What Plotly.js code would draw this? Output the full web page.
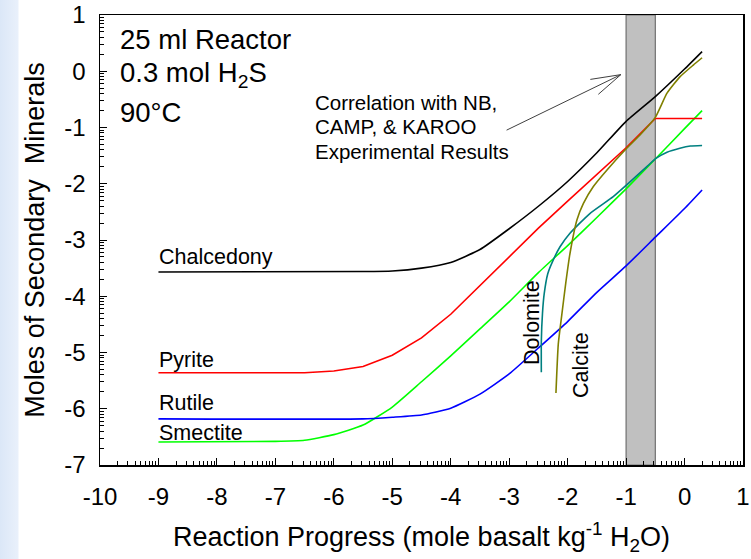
<!DOCTYPE html>
<html>
<head>
<meta charset="utf-8">
<script src="https://cdn.plot.ly/plotly-3.0.1.min.js"></script>
<style>
  html, body { margin: 0; padding: 0; width: 751px; height: 559px; overflow: hidden;
    background: linear-gradient(to right, #dbe7f7 0px, #e9f0fb 18px, #ffffff 19px); }
  #chart { width: 751px; height: 559px; }
</style>
</head>
<body>
<div id="chart"></div>
<script>
// ---- data ----
const chalcedonyX = [-9, -5.5, -5, -4.5, -4, -3.5, -3, -2.5, -2, -1.5, -1, -0.5, 0, 0.3];
const chalcedonyY = [-3.57, -3.56, -3.55, -3.50, -3.40, -3.17, -2.80, -2.40, -1.96, -1.45, -0.89, -0.45, 0.04, 0.35];

const pyriteX = [-9, -6.5, -6, -5.5, -5, -4.5, -4, -3.5, -3, -2.5, -2, -1.5, -1, -0.5, 0.3];
const pyriteY = [-5.36, -5.36, -5.33, -5.25, -5.05, -4.74, -4.32, -3.81, -3.31, -2.79, -2.31, -1.84, -1.36, -0.84, -0.84];

const rutileX = [-9, -5.5, -5, -4.5, -4, -3.5, -3, -2.5, -2, -1.5, -1, -0.5, 0, 0.3];
const rutileY = [-6.18, -6.18, -6.15, -6.11, -5.99, -5.74, -5.38, -4.92, -4.45, -3.93, -3.46, -2.95, -2.44, -2.11];

const smectiteX = [-9, -7, -6.5, -6, -5.5, -5, -4.5, -4, -3.5, -3, -2.5, -2, -1.5, -1, -0.5, 0, 0.3];
const smectiteY = [-6.59, -6.58, -6.56, -6.46, -6.29, -5.97, -5.52, -5.06, -4.58, -4.10, -3.58, -3.10, -2.60, -2.09, -1.56, -1.02, -0.70];

const dolomiteX = [-2.45, -2.45, -2.43, -2.40, -2.34, -2.27, -2.13, -1.96, -1.62, -1.22, -0.99, -0.65, -0.49, -0.30, -0.08, 0.10, 0.30];
const dolomiteY = [-5.35, -4.80, -4.30, -3.95, -3.60, -3.41, -3.12, -2.88, -2.53, -2.23, -2.02, -1.70, -1.55, -1.44, -1.37, -1.33, -1.32];

const calciteX = [-2.20, -2.16, -2.10, -2.03, -1.96, -1.84, -1.73, -1.56, -1.33, -0.99, -0.75, -0.50, -0.30, -0.08, 0.15, 0.30];
const calciteY = [-5.72, -4.85, -4.33, -3.75, -3.24, -2.64, -2.35, -2.05, -1.76, -1.37, -1.12, -0.82, -0.39, -0.10, 0.11, 0.24];

const bandRange = [-1, -0.5];
const xTicks = [-10, -9, -8, -7, -6, -5, -4, -3, -2, -1, 0, 1];
const xTickText = ['-10', '-9', '-8', '-7', '-6', '-5', '-4', '-3', '-2', '-1', '0', '1'];
const yTicks = [-7, -6, -5, -4, -3, -2, -1, 0, 1];
const yTickText = ['-7', '-6', '-5', '-4', '-3', '-2', '-1', '0', '1'];

// minor (log-spaced) tick positions
function minorTicks(lo, hi) {
  const out = [];
  for (let n = lo; n < hi; n++) {
    for (let k = 2; k <= 9; k++) out.push(n + Math.log10(k));
  }
  return out;
}

const FONT = 'Liberation Sans, Arial, sans-serif';
const lw = 1.6;
const sm = {shape: 'spline', smoothing: 0.5};

const traces = [
  {x: smectiteX, y: smectiteY, mode: 'lines', line: Object.assign({color: '#00ff00', width: lw}, sm)},
  {x: rutileX, y: rutileY, mode: 'lines', line: Object.assign({color: '#0000ff', width: lw}, sm)},
  {x: pyriteX, y: pyriteY, mode: 'lines', line: {color: '#ff0000', width: lw}},
  {x: dolomiteX, y: dolomiteY, mode: 'lines', line: Object.assign({color: '#008080', width: lw}, sm)},
  {x: calciteX, y: calciteY, mode: 'lines', line: Object.assign({color: '#808000', width: lw}, sm)},
  {x: chalcedonyX, y: chalcedonyY, mode: 'lines', line: Object.assign({color: '#000000', width: lw}, sm)}
];

function lab(text, x, y, opts) {
  return Object.assign({text: text, x: x, y: y, xref: 'x', yref: 'y', showarrow: false,
    xanchor: 'left', yanchor: 'middle', font: {family: FONT, size: 21.5, color: '#000'}}, opts || {});
}

// arrow tip and tail (data coords), barbs as pixel offsets from the tip
const arrowTip = {x: -1.09, y: -0.06};
const arrowTail = {x: -3.07, y: -1.06};
function arrowLine(opts) {
  return Object.assign({x: arrowTip.x, y: arrowTip.y, xref: 'x', yref: 'y', text: '',
    showarrow: true, arrowhead: 0, arrowwidth: 1, arrowcolor: '#404040'}, opts);
}

const annotations = [
  lab('25 ml Reactor', -9.70, 0.56, {font: {family: FONT, size: 27.5, color: '#000'}}),
  lab('0.3 mol H<sub>2</sub>S', -9.70, -0.05, {font: {family: FONT, size: 27.5, color: '#000'}}),
  lab('90°C', -9.70, -0.74, {font: {family: FONT, size: 27.5, color: '#000'}}),
  lab('Correlation with NB,', -6.36, -0.56, {font: {family: FONT, size: 20.5, color: '#000'}}),
  lab('CAMP, &amp; KAROO', -6.36, -0.99, {font: {family: FONT, size: 20.5, color: '#000'}}),
  lab('Experimental Results', -6.36, -1.42, {font: {family: FONT, size: 20.5, color: '#000'}}),
  lab('Chalcedony', -9.02, -3.30),
  lab('Pyrite', -9.02, -5.13),
  lab('Rutile', -9.02, -5.90),
  lab('Smectite', -9.02, -6.43),
  lab('Dolomite', -2.61, -4.46, {textangle: -90, xanchor: 'center'}),
  lab('Calcite', -1.77, -5.22, {textangle: -90, xanchor: 'center'}),
  arrowLine({ax: arrowTail.x, ay: arrowTail.y, axref: 'x', ayref: 'y'}),
  arrowLine({ax: -32, ay: 5}),
  arrowLine({ax: -24, ay: 21})
];

const layout = {
  width: 751, height: 559,
  margin: {l: 100, r: 8, t: 15, b: 94},
  paper_bgcolor: 'rgba(0,0,0,0)',
  plot_bgcolor: '#ffffff',
  showlegend: false,
  font: {family: FONT, color: '#000'},
  xaxis: {
    range: [-10, 1], tickmode: 'array', tickvals: xTicks, ticktext: xTickText,
    ticks: 'inside', ticklen: 7, tickwidth: 1, tickcolor: '#000',
    showline: true, linecolor: '#000', linewidth: 1.5, mirror: true,
    showgrid: false, zeroline: false,
    tickfont: {family: FONT, size: 24, color: '#000'},
    ticklabelstandoff: 10,
    minor: {tickmode: 'array', tickvals: minorTicks(-10, 1), ticks: 'inside', ticklen: 4, tickwidth: 1, tickcolor: '#000', showgrid: false},
    title: {text: 'Reaction Progress (mole basalt kg<sup>-1</sup> H<sub>2</sub>O)', font: {family: FONT, size: 27, color: '#000'}, standoff: 18}
  },
  yaxis: {
    range: [-7, 1], tickmode: 'array', tickvals: yTicks, ticktext: yTickText,
    ticks: 'inside', ticklen: 7, tickwidth: 1, tickcolor: '#000',
    showline: true, linecolor: '#000', linewidth: 1.5, mirror: true,
    showgrid: false, zeroline: false,
    tickfont: {family: FONT, size: 24, color: '#000'},
    ticklabelstandoff: 8,
    minor: {tickmode: 'array', tickvals: minorTicks(-7, 1), ticks: 'inside', ticklen: 4, tickwidth: 1, tickcolor: '#000', showgrid: false},
    title: {text: 'Moles of Secondary  Minerals', font: {family: FONT, size: 27, color: '#000'}, standoff: 12}
  },
  shapes: [
    {type: 'rect', xref: 'x', yref: 'paper', x0: bandRange[0], x1: bandRange[1], y0: 0, y1: 1,
     fillcolor: '#c0c0c0', line: {color: '#707070', width: 1.2}, layer: 'below'}
  ],
  annotations: annotations
};

Plotly.newPlot('chart', traces, layout, {displayModeBar: false, staticPlot: true});
</script>
</body>
</html>
